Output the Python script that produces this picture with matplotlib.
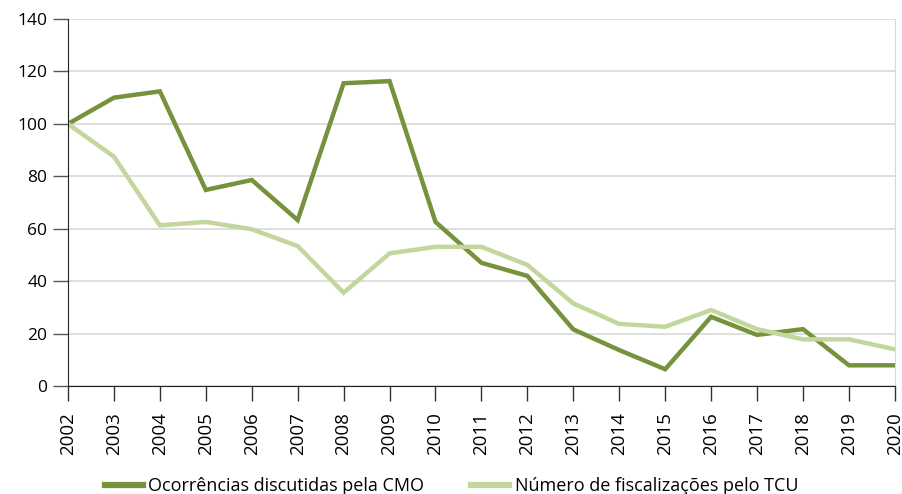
import matplotlib
matplotlib.use("Agg")
import matplotlib.pyplot as plt

years = list(range(2002, 2021))
cmo = [100, 110, 112.4, 74.8, 78.6, 63.3, 115.5, 116.3, 62.6, 47.0,
       42.0, 21.6, 13.7, 6.4, 26.4, 19.5, 21.7, 7.9, 7.9]
tcu = [100, 87.5, 61.3, 62.6, 59.8, 53.4, 35.6, 50.6, 53.1, 53.1,
       46.2, 31.5, 23.7, 22.6, 29.0, 21.7, 17.8, 17.8, 14.0]

label_cmo = "Ocorrências discutidas pela CMO"
label_tcu = "Número de fiscalizações pelo TCU"

plt.rcParams["font.family"] = ["Open Sans", "DejaVu Sans"]

fig = plt.figure(figsize=(9.03, 4.94), dpi=100)
ax = fig.add_axes([0.0753, 0.2186, 0.9157, 0.7429])

ax.plot(years, cmo, color="#76923c", lw=3.2, label=label_cmo, solid_joinstyle="miter")
ax.plot(years, tcu, color="#c3d69b", lw=3.2, label=label_tcu, solid_joinstyle="miter")

ax.set_xlim(2002, 2020)
ax.set_ylim(0, 140)
ax.set_yticks(range(0, 141, 20))
ax.set_xticks(years)
ax.set_xticklabels([str(y) for y in years], rotation=90, fontsize=13.5)
ax.tick_params(axis="y", labelsize=12.5, length=11, width=1, color="#555555", pad=4)
ax.tick_params(axis="x", length=11, width=1, color="#333333", pad=8)

ax.grid(axis="y", color="#d9d9d9", lw=1.2)
ax.set_axisbelow(True)
ax.spines["top"].set_visible(False)
ax.spines["right"].set_color("#d9d9d9")
ax.spines["left"].set_color("#222222")
ax.spines["bottom"].set_color("#222222")

leg = fig.legend(loc="lower center", bbox_to_anchor=(0.5, -0.035), ncol=2, frameon=False,
                 prop={"size": 13}, handlelength=2.1, handletextpad=0.3,
                 columnspacing=2.6)
for line in leg.get_lines():
    line.set_linewidth(4.5)

fig.savefig("out.png", dpi=100)
